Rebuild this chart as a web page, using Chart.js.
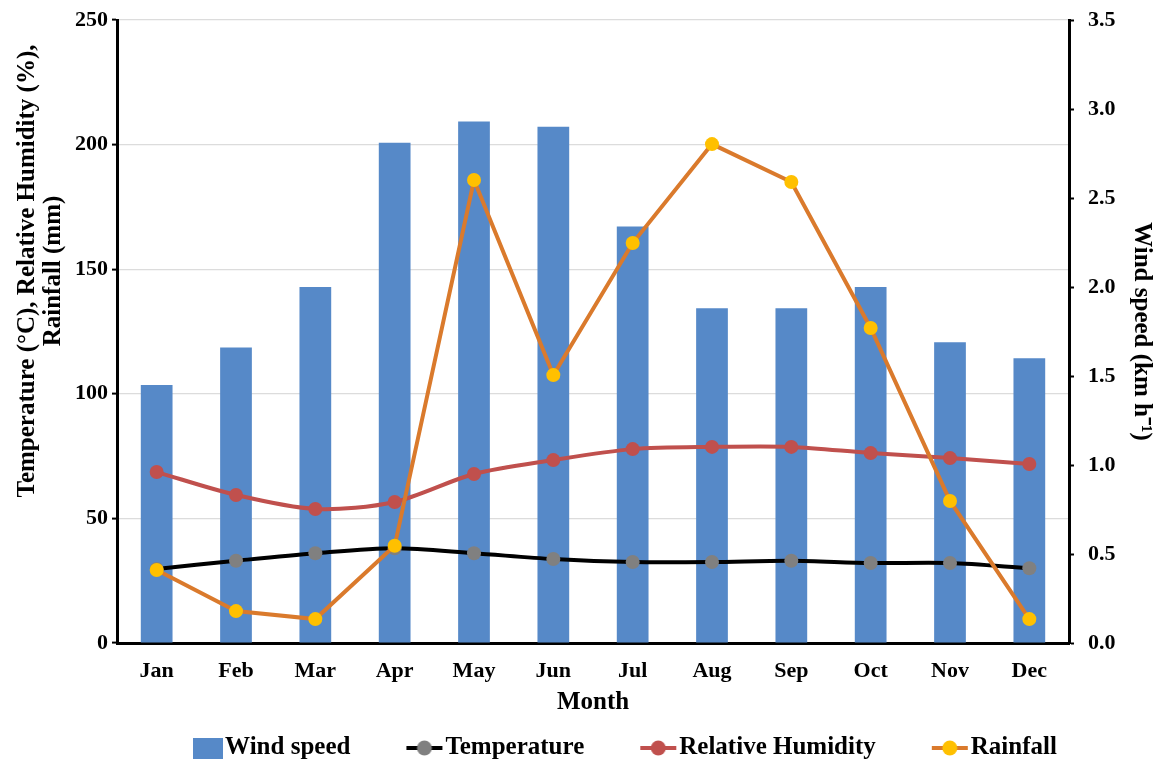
<!DOCTYPE html>
<html>
<head>
<meta charset="utf-8">
<script src="https://cdn.jsdelivr.net/npm/chart.js@4.4.1/dist/chart.umd.min.js"></script>
<style>
  html, body { margin: 0; padding: 0; background: #fff; }
  #wrap { width: 1160px; height: 760px; }
</style>
</head>
<body>
<div id="wrap"><canvas id="chart-js"></canvas></div>
<script>
const months = ['Jan', 'Feb', 'Mar', 'Apr', 'May', 'Jun', 'Jul', 'Aug', 'Sep', 'Oct', 'Nov', 'Dec'];
const windSpeed = [1.45, 1.66, 2.0, 2.81, 2.93, 2.9, 2.34, 1.88, 1.88, 2.0, 1.69, 1.6];
const temperature = [29.7, 33, 36, 38, 36, 33.7, 32.5, 32.5, 33, 32.1, 32.1, 30];
const humidity = [68.6, 59.4, 53.8, 56.6, 67.8, 73.4, 77.8, 78.7, 78.7, 76.2, 74.2, 71.8];
const rainfall = [29.3, 12.8, 9.6, 39, 185.8, 107.5, 160.5, 200.2, 185, 126.4, 57, 9.6];

const leftRange = [0, 250, 50];
const rightRange = [0, 3.5, 0.5];
const leftTitle = ['Temperature (°C), Relative Humidity (%),', 'Rainfall (mm)'];

const serif = "'Liberation Serif', 'Times New Roman', serif";
Chart.defaults.font.family = serif;
Chart.defaults.font.weight = 'bold';
Chart.defaults.color = '#000';

// little canvases used as legend symbols
function lineIcon(lineColor, dotColor) {
    const c = document.createElement('canvas');
    c.width = 38; c.height = 18;
    const g = c.getContext('2d');
    g.strokeStyle = lineColor;
    g.lineWidth = 4;
    g.beginPath(); g.moveTo(1, 9); g.lineTo(37, 9); g.stroke();
    g.fillStyle = dotColor;
    g.beginPath(); g.arc(19, 9, 7.5, 0, Math.PI * 2); g.fill();
    return c;
}
function boxIcon(color) {
    const c = document.createElement('canvas');
    c.width = 30; c.height = 21;
    const g = c.getContext('2d');
    g.fillStyle = color;
    g.fillRect(0, 0, 30, 21);
    return c;
}

const blue = '#5689C8';
const icons = [
    boxIcon(blue),
    lineIcon('#000000', '#808080'),
    lineIcon('#C0504D', '#C0504D'),
    lineIcon('#DA7A2C', '#FFC000')
];

// legend row under the chart + left axis title (drawn on the canvas)
const extras = {
    id: 'extras',
    afterDraw(chart) {
        const c = chart.ctx;
        c.save();
        c.fillStyle = '#000';
        c.textBaseline = 'middle';

        c.font = 'bold 25px ' + serif;
        const y = 748, gap = 55;
        const sets = chart.data.datasets;
        const widths = sets.map((ds, i) => icons[i].width + 2 + c.measureText(ds.label).width);
        const total = widths.reduce((a, b) => a + b, 0) + gap * (widths.length - 1);
        let x = 625 - total / 2;
        sets.forEach((ds, i) => {
            const ic = icons[i];
            c.drawImage(ic, x, Math.round(y - ic.height / 2));
            x += ic.width + 2;
            c.textAlign = 'left';
            c.fillText(ds.label, x, y);
            x += c.measureText(ds.label).width + gap;
        });

        c.font = 'bold 25px ' + serif;
        c.textAlign = 'center';
        c.translate(0, 271);
        c.rotate(-Math.PI / 2);
        c.fillText(leftTitle[0], 0, 28);
        c.fillText(leftTitle[1], 0, 54);
        c.restore();
    }
};

const ctx = document.getElementById('chart-js').getContext('2d');

const myChart = new Chart(ctx, {
    data: {
        labels: months,
        datasets: [
            {
                type: 'bar',
                label: 'Wind speed',
                data: windSpeed,
                yAxisID: 'y1',
                backgroundColor: blue,
                barPercentage: 0.4,
                categoryPercentage: 1,
                order: 4
            },
            {
                type: 'line',
                label: 'Temperature',
                data: temperature,
                yAxisID: 'y',
                borderColor: '#000000',
                borderWidth: 4,
                tension: 0.3,
                pointRadius: 7,
                pointBackgroundColor: '#808080',
                pointBorderColor: '#808080',
                pointBorderWidth: 0,
                order: 3
            },
            {
                type: 'line',
                label: 'Relative Humidity',
                data: humidity,
                yAxisID: 'y',
                borderColor: '#C0504D',
                borderWidth: 4,
                tension: 0.3,
                pointRadius: 7,
                pointBackgroundColor: '#C0504D',
                pointBorderColor: '#C0504D',
                pointBorderWidth: 0,
                order: 2
            },
            {
                type: 'line',
                label: 'Rainfall',
                data: rainfall,
                yAxisID: 'y',
                borderColor: '#DA7A2C',
                borderWidth: 4,
                tension: 0,
                pointRadius: 7,
                pointBackgroundColor: '#FFC000',
                pointBorderColor: '#FFC000',
                pointBorderWidth: 0,
                order: 1
            }
        ]
    },
    options: {
        responsive: true,
        maintainAspectRatio: false,
        animation: false,
        layout: { padding: { top: 20, left: 0, right: 0, bottom: 42 } },
        plugins: {
            tooltip: { enabled: false },
            legend: { display: false }
        },
        scales: {
            x: {
                grid: { display: false, drawTicks: false },
                border: { display: true, color: '#000', width: 3 },
                ticks: { font: { size: 22 }, padding: 15 },
                title: { display: true, text: 'Month', font: { size: 25 }, padding: { top: 0, bottom: 0 } },
                afterFit(scale) { scale.height = 75; }
            },
            y: {
                position: 'left',
                min: leftRange[0],
                max: leftRange[1],
                ticks: { stepSize: leftRange[2], font: { size: 22, lineHeight: 0.5 }, padding: 4 },
                grid: { color: '#DCDCDC', lineWidth: 1.2, tickLength: 5, tickColor: '#000', tickWidth: 2 },
                border: { display: true, color: '#000', width: 3 },
                afterFit(scale) { scale.width = 117; }
            },
            y1: {
                position: 'right',
                min: rightRange[0],
                max: rightRange[1],
                ticks: {
                    stepSize: rightRange[2],
                    font: { size: 22, lineHeight: 0.5 },
                    padding: 14,
                    callback: v => Number(v).toFixed(1)
                },
                grid: { drawOnChartArea: false, tickLength: 5, tickColor: '#000', tickWidth: 2 },
                border: { display: true, color: '#000', width: 3 },
                title: { display: true, text: 'Wind speed (km h⁻¹)', font: { size: 25 }, padding: { top: 4, bottom: 0 } },
                afterFit(scale) { scale.width = 91; }
            }
        }
    },
    plugins: [extras]
});
</script>
</body>
</html>
